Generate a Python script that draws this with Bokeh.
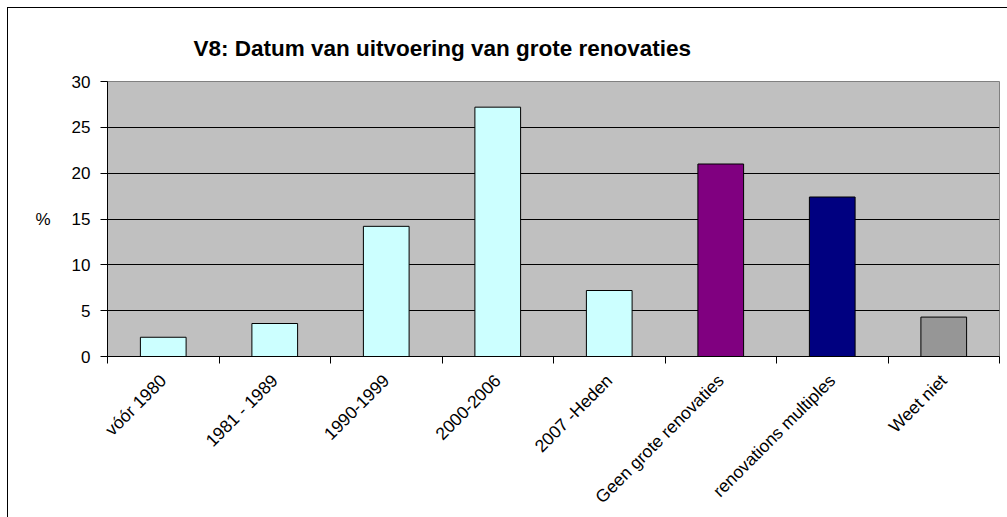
import numpy as np
from bokeh.plotting import figure
from bokeh.models import Range1d, FixedTicker, ColumnDataSource, Spacer
from bokeh.layouts import column, row
from bokeh.embed import file_html
from bokeh.resources import INLINE

title_text = "V8: Datum van uitvoering van grote renovaties"
categories = ["vóór 1980", "1981 - 1989", "1990-1999", "2000-2006", "2007 -Heden",
              "Geen grote renovaties", "renovations multiples", "Weet niet"]
values = [2.1, 3.6, 14.2, 27.2, 7.2, 21.0, 17.4, 4.3]
bar_colors = ["#CCFFFF", "#CCFFFF", "#CCFFFF", "#CCFFFF", "#CCFFFF",
              "#800080", "#000080", "#969696"]
y_ticks = [0, 5, 10, 15, 20, 25, 30]

n = len(categories)
positions = [i + 0.5 for i in range(n)]
src = ColumnDataSource(dict(x=positions, top=values, color=bar_colors, cat=categories))

FONT = "Liberation Sans"

p = figure(width=999, height=509, output_backend="svg", toolbar_location=None,
           x_range=Range1d(0, n), y_range=Range1d(y_ticks[0], y_ticks[-1]),
           min_border_left=99, min_border_right=8, min_border_top=73, min_border_bottom=161)
p.styles = {"outline": "1px solid black"}

p.title.text = title_text
p.title.text_font = FONT
p.title.text_font_size = "22.5px"
p.title.text_font_style = "bold"
p.title.text_color = "black"
p.title.align = "left"
p.title.offset = 86
p.title.standoff = 42

p.background_fill_color = "#C0C0C0"
p.border_fill_color = "white"
p.outline_line_color = "#808080"

p.vbar(x="x", top="top", bottom=0, width=0.41, fill_color="color",
       line_color="black", line_width=1, source=src)

# grid
p.xgrid.grid_line_color = None
p.ygrid.ticker = FixedTicker(ticks=y_ticks[1:-1])
p.ygrid.grid_line_color = "black"
p.ygrid.grid_line_width = 1

# y axis
ya = p.yaxis[0]
ya.ticker = FixedTicker(ticks=y_ticks)
ya.axis_line_color = "black"
ya.major_tick_line_color = "black"
ya.major_tick_out = 7
ya.major_tick_in = 0
ya.minor_tick_line_color = None
ya.major_label_text_font = FONT
ya.major_label_text_font_size = "17px"
ya.major_label_text_color = "black"
ya.major_label_standoff = 10
ya.axis_label = "%"
ya.axis_label_orientation = "horizontal"
ya.axis_label_text_font = FONT
ya.axis_label_text_font_size = "17px"
ya.axis_label_text_font_style = "normal"
ya.axis_label_text_color = "black"
ya.axis_label_standoff = 18

# x axis
xa = p.xaxis[0]
xa.ticker = FixedTicker(ticks=positions, minor_ticks=list(range(n + 1)))
xa.major_label_overrides = {pos: cat for pos, cat in zip(positions, categories)}
xa.major_label_orientation = np.pi / 4
xa.axis_line_color = "black"
xa.major_tick_line_color = None
xa.major_tick_out = 7
xa.major_tick_in = 0
xa.minor_tick_line_color = "black"
xa.minor_tick_out = 7
xa.minor_tick_in = 0
xa.major_label_text_font = FONT
xa.major_label_text_font_size = "17.5px"
xa.major_label_text_color = "black"
xa.major_label_standoff = 14

layout = column(Spacer(height=8, width=1007), row(Spacer(width=8, height=509), p))
open("out.html", "w").write(file_html(layout, INLINE))
